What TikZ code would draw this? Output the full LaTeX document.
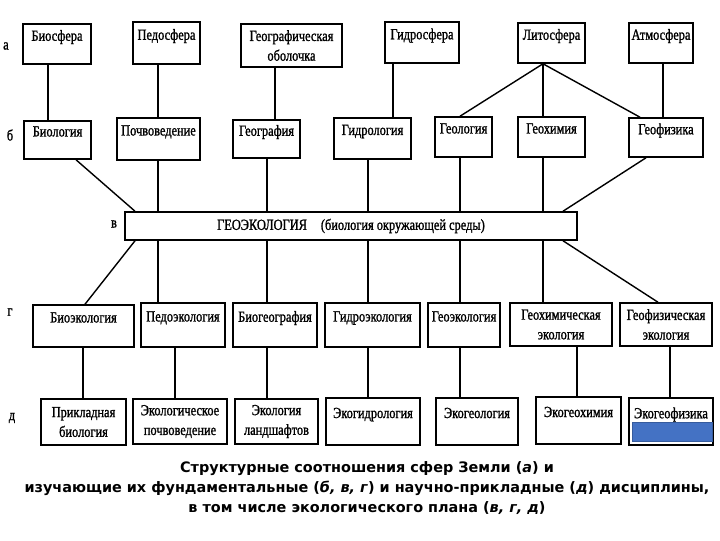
\documentclass[tikz,border=0pt]{standalone}
\usepackage{fontspec}
\setmainfont{Liberation Serif}
\newfontfamily\boxfont[FakeStretch=0.8,FakeBold=1.2]{Liberation Serif}
\newfontfamily\capfont{DejaVu Sans}
\usepackage{xcolor}
\usetikzlibrary{positioning}
\definecolor{patchblue}{RGB}{68,114,196}

\begin{document}
\begin{tikzpicture}[x=0.025cm,y=-0.025cm,
  every node/.style={font=\boxfont\fontsize{11}{14}\selectfont,align=center},
  box/.style={rectangle,draw=black,line width=1.1pt,inner sep=1pt,fill=white},
  hi/.style={text depth=4.3mm},
  ln/.style={line width=1pt,black},
  lab/.style={inner sep=0pt},
  bluepatch/.style={fill=patchblue,draw=patchblue!80!black,line width=0.4pt},
]
\useasboundingbox (0,0) rectangle (720,540);

% spheres (a)
\node[box,minimum width=17mm,minimum height=10mm,hi]       at (57,44)    (biosph)   {Биосфера};
\node[box,minimum width=16.75mm,minimum height=10.5mm,hi]  at (166.5,43) (pedosph)  {Педосфера};
\node[box,minimum width=25.25mm,minimum height=10.75mm]    at (291.5,45.5) (geoshell) {Географическая\\оболочка};
\node[box,minimum width=18.5mm,minimum height=10.25mm,hi]  at (422,42.5)  (hydrosph) {Гидросфера};
\node[box,minimum width=16.75mm,minimum height=10mm,hi]    at (551.5,43) (lithosph) {Литосфера};
\node[box,minimum width=16mm,minimum height=10mm,hi]       at (661,43)   (atmosph)  {Атмосфера};

% sciences (b)
\node[box,minimum width=16.75mm,minimum height=9.5mm,hi]   at (57.5,140)  (biology)   {Биология};
\node[box,minimum width=20.75mm,minimum height=10.5mm,hi]  at (158.5,139) (soilsci)   {Почвоведение};
\node[box,minimum width=16.75mm,minimum height=9.5mm,hi]   at (266.5,139) (geography) {География};
\node[box,minimum width=19.25mm,minimum height=10.25mm,hi] at (372.5,138.5) (hydrology) {Гидрология};
\node[box,minimum width=14.25mm,minimum height=10mm,hi]    at (463.5,137) (geology)   {Геология};
\node[box,minimum width=16.75mm,minimum height=10mm,hi]    at (551.5,137) (geochem)   {Геохимия};
\node[box,minimum width=18.5mm,minimum height=9.75mm,hi]   at (666,137.5) (geophys)   {Геофизика};

% geoecology (v)
\node[box,minimum width=113mm,minimum height=7mm] at (351,226) (geoecology)
  {ГЕОЭКОЛОГИЯ\hspace{3.5mm}(биология окружающей среды)};

% ecological sciences (g)
\node[box,minimum width=25.25mm,minimum height=10.5mm,hi] at (83.5,326) (bioeco)     {Биоэкология};
\node[box,minimum width=21mm,minimum height=11mm,hi]      at (183,325)  (pedoeco)    {Педоэкология};
\node[box,minimum width=21mm,minimum height=11mm,hi]      at (275,325)  (biogeo)     {Биогеография};
\node[box,minimum width=23.75mm,minimum height=11mm,hi]   at (372.5,325) (hydroeco)  {Гидроэкология};
\node[box,minimum width=18mm,minimum height=11mm,hi]      at (464,325)  (geoeco)     {Геоэкология};
\node[box,minimum width=25.5mm,minimum height=10.75mm]    at (561,324.5) (geochemeco) {Геохимическая\\экология};
\node[box,minimum width=23mm,minimum height=10.75mm]      at (666,324.5) (geophyseco) {Геофизическая\\экология};

% applied disciplines (d)
\node[box,minimum width=21.25mm,minimum height=11.5mm]    at (83.5,422) (applbio)    {Прикладная\\биология};
\node[box,minimum width=23.5mm,minimum height=11.25mm]    at (180,421.5) (ecosoil)   {Экологическое\\почвоведение};
\node[box,minimum width=20.75mm,minimum height=11.25mm]   at (276.5,421.5) (landeco) {Экология\\ландшафтов};
\node[box,minimum width=23.5mm,minimum height=11.75mm,hi] at (373,421.5) (ecohydro)  {Экогидрология};
\node[box,minimum width=20.5mm,minimum height=11.75mm,hi] at (477,421.5) (ecogeol)   {Экогеология};
\node[box,minimum width=21.25mm,minimum height=11.75mm,hi] at (578.5,420.5) (ecogeochem) {Экогеохимия};
\node[box,minimum width=21mm,minimum height=11.75mm,hi]   at (671,421.5) (ecogeophys) {Экогеофизика};
\fill[bluepatch] (632,422) rectangle (712,441);

% row letters
\node[lab] at (6,46)   (la) {а};
\node[lab] at (10,135) (lb) {б};
\node[lab] at (114,224) (lv) {в};
\node[lab] at (10,312) (lg) {г};
\node[lab] at (12,418) (ld) {д};

% columns of the connectors
\foreach \n/\xx in {A/48,B/158,C/275,D/393,E/543,F/663,G/460,H/640,I/267,J/368,
                    K/76,L/135,M/646,N/563,Q/85,T/658,U/83,V/175,W/577,X/670}
  \coordinate (c\n) at (\xx,0);

% a -> b
\draw[ln] (biosph.south -| cA)   -- (biology.north -| cA);
\draw[ln] (pedosph.south -| cB)  -- (soilsci.north -| cB);
\draw[ln] (geoshell.south -| cC) -- (geography.north -| cC);
\draw[ln] (hydrosph.south -| cD) -- (hydrology.north -| cD);
\draw[ln] (lithosph.south -| cE) -- (geology.north -| cG);
\draw[ln] (lithosph.south -| cE) -- (geochem.north -| cE);
\draw[ln] (lithosph.south -| cE) -- (geophys.north -| cH);
\draw[ln] (atmosph.south -| cF)  -- (geophys.north -| cF);

% b -> v
\draw[ln] (biology.south -| cK) -- (geoecology.north -| cL);
\foreach \a/\c in {soilsci/B,geography/I,hydrology/J,geology/G,geochem/E}
  \draw[ln] (\a.south -| c\c) -- (geoecology.north -| c\c);
\draw[ln] (geophys.south -| cM) -- (geoecology.north -| cN);

% v -> g
\draw[ln] (geoecology.south -| cL) -- (bioeco.north -| cQ);
\foreach \b/\c in {pedoeco/B,biogeo/I,hydroeco/J,geoeco/G,geochemeco/E}
  \draw[ln] (geoecology.south -| c\c) -- (\b.north -| c\c);
\draw[ln] (geoecology.south -| cN) -- (geophyseco.north -| cT);

% g -> d
\foreach \b/\d/\c in {bioeco/applbio/U,pedoeco/ecosoil/V,biogeo/landeco/I,
                      hydroeco/ecohydro/J,geoeco/ecogeol/G,geochemeco/ecogeochem/W,
                      geophyseco/ecogeophys/X}
  \draw[ln] (\b.south -| c\c) -- (\d.north -| c\c);

% caption
\node[font=\capfont\bfseries\fontsize{10.25}{14}\selectfont] at (367,488) (caption)
  {Структурные соотношения сфер Земли (\textit{а}) и\\
   изучающие их фундаментальные (\textit{б, в, г}) и научно-прикладные (\textit{д}) дисциплины,\\
   в том числе экологического плана (\textit{в, г, д})};
\end{tikzpicture}
\end{document}
